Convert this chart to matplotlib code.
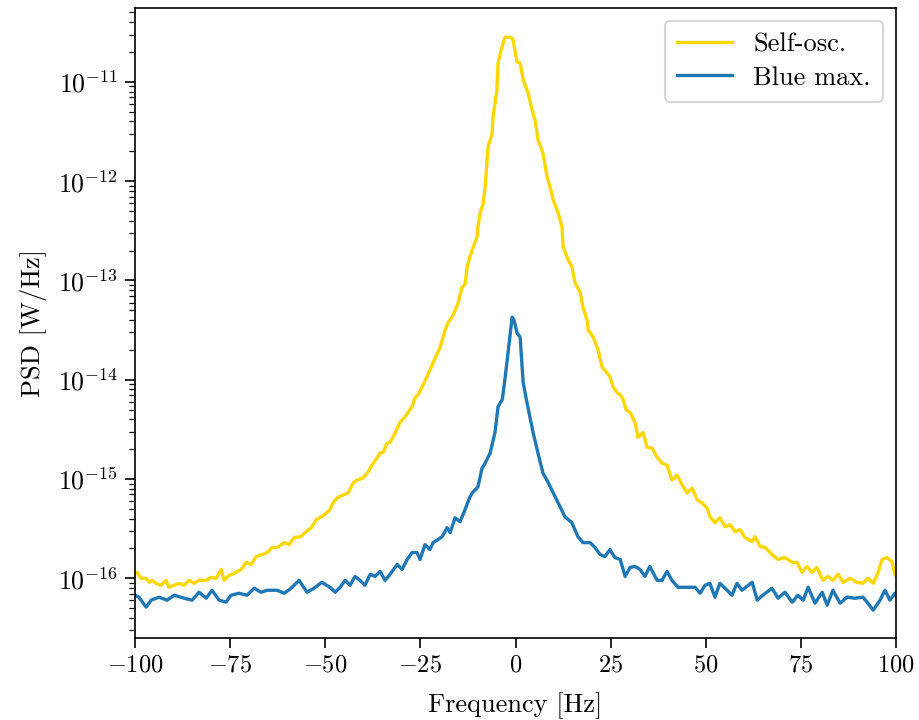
import numpy as np
import matplotlib
matplotlib.use("Agg")
import matplotlib.pyplot as plt
from matplotlib.ticker import NullFormatter

plt.rcParams['font.family'] = 'serif'
plt.rcParams['font.serif'] = ['cmr10', 'DejaVu Serif']
plt.rcParams['mathtext.fontset'] = 'cm'
plt.rcParams['axes.formatter.use_mathtext'] = True
plt.rcParams['axes.unicode_minus'] = False

# Self-oscillation PSD: frequency [Hz] and log10(PSD [W/Hz])
self_freq = [-100, -99.5, -98.4, -97.1, -96.3, -95.5, -94.5, -93.2, -91.9, -91.1, -89.8, -88.4,
             -87.1, -85.8, -84.5, -83.2, -81.3, -80.0, -78.7, -77.4, -76.6, -75.3, -74.0, -72.1,
             -70.8, -69.5, -68.2, -66.6, -65.3, -64.0, -62.7, -60.8, -59.5, -58.2, -56.4, -55.1,
             -53.7, -52.4, -50.6, -48.8, -48.0, -46.9, -45.3, -44.0, -42.7, -41.7, -40.1, -38.8,
             -37.4, -35.6, -34.8, -33.8, -33.0, -31.7, -30.4, -29.0, -28.3, -27.2, -26.4, -25.6,
             -24.3, -23.3, -21.7, -19.8, -18.5, -17.7, -16.7, -15.9, -15.1, -14.1, -13.3, -12.7,
             -12.0, -11.2, -10.1, -9.9, -9.3, -8.5, -8.0, -7.2, -6.2, -5.9, -4.9, -4.6, -3.8,
             -2.8, -1.4, -0.7,
             0.4, 1.2, 2.0, 3.3, 4.3, 5.1, 5.9, 7.2, 8.3, 9.1, 9.9, 11.2, 12.2, 12.5, 13.8, 14.8,
             15.6, 17.0, 17.7, 18.8, 19.1, 20.4, 21.7, 22.7, 24.0, 24.8, 25.6, 26.7, 27.5, 28.3,
             29.0, 30.1, 31.4, 32.2, 33.5, 34.6, 35.9, 37.2, 38.5, 39.8, 41.1, 42.4, 43.8, 45.1,
             46.4, 47.7, 49.0, 50.3, 51.1, 52.4, 53.7, 55.1, 56.4, 57.7, 59.0, 60.3, 62.2, 62.9,
             64.3, 65.6, 67.4, 69.0, 70.8, 72.7, 74.0, 75.3, 76.6, 77.9, 79.2, 80.8, 82.1, 83.4,
             84.8, 86.1, 87.9, 89.7, 91.3, 92.6, 94.0, 95.3, 96.3, 97.6, 98.9, 99.7, 100]
self_log10 = [-15.95, -15.94, -16.00, -16.00, -16.04, -16.02, -16.05, -16.07, -16.02, -16.09, -16.07,
              -16.05, -16.07, -16.02, -16.05, -16.02, -16.02, -15.99, -16.00, -15.91, -16.02, -15.97,
              -15.95, -15.91, -15.84, -15.86, -15.78, -15.76, -15.74, -15.69, -15.69, -15.64, -15.66,
              -15.59, -15.58, -15.53, -15.49, -15.41, -15.37, -15.31, -15.24, -15.19, -15.16, -15.14,
              -15.04, -15.01, -14.99, -14.93, -14.84, -14.74, -14.73, -14.64, -14.63, -14.54, -14.43,
              -14.37, -14.33, -14.27, -14.18, -14.15, -14.05, -13.97, -13.83, -13.67, -13.50, -13.42,
              -13.37, -13.30, -13.23, -13.07, -13.04, -12.86, -12.76, -12.67, -12.56, -12.46, -12.32,
              -12.22, -12.06, -11.65, -11.53, -11.35, -11.08, -10.81, -10.68, -10.55, -10.55, -10.57,
              -10.80, -10.81, -10.98, -11.11, -11.28, -11.38, -11.58, -11.72, -11.96, -12.06, -12.19,
              -12.32, -12.46, -12.66, -12.79, -12.86, -13.02, -13.12, -13.27, -13.40, -13.50, -13.57,
              -13.70, -13.87, -13.93, -13.97, -14.07, -14.13, -14.15, -14.20, -14.30, -14.33, -14.43,
              -14.58, -14.53, -14.68, -14.69, -14.78, -14.84, -14.86, -15.01, -14.96, -15.06, -15.14,
              -15.09, -15.21, -15.24, -15.29, -15.38, -15.44, -15.39, -15.48, -15.46, -15.53, -15.51,
              -15.59, -15.63, -15.58, -15.68, -15.69, -15.76, -15.81, -15.79, -15.84, -15.84, -15.94,
              -15.88, -15.94, -15.89, -16.02, -15.98, -16.02, -15.96, -16.04, -16.00, -16.04, -16.05,
              -16.00, -16.05, -15.94, -15.81, -15.79, -15.83, -15.96, -15.97]

# Blue-detuned maximum PSD: frequency [Hz] and log10(PSD [W/Hz])
blue_freq = [-100, -99, -97.1, -95.8, -93.7, -91.6, -89.7, -87.1, -85.0, -83.2, -81.3, -79.8, -77.9,
             -76.1, -74.8, -72.7, -70.6, -68.7, -66.9, -65.3, -62.7, -60.8, -59.0, -56.9, -54.8,
             -53.0, -50.9, -48.8, -47.4, -46.1, -44.8, -43.5, -42.2, -40.9, -39.6, -38.2, -36.9,
             -35.6, -34.3, -33.0, -31.1, -29.8, -28.5, -27.2, -25.9, -25.1, -23.8, -22.5, -21.7,
             -20.4, -19.3, -18.0, -17.2, -15.9, -14.6, -13.3, -12.0, -11.2, -9.9, -8.8, -8.0, -6.7,
             -5.4, -4.6, -3.5, -2.8, -2.2, -1.4, -0.9, -0.4, 0.4, 1.2, 2.0, 3.0, 4.6, 5.9, 7.2, 8.5,
             9.9, 11.2, 13.0, 14.8, 16.4, 17.7, 19.6, 20.9, 22.2, 23.5, 24.8, 26.1, 27.5, 28.8, 30.1,
             31.4, 32.7, 34.0, 35.3, 37.2, 38.5, 39.8, 41.1, 42.7, 45.1, 47.2, 48.5, 49.8, 51.1,
             52.4, 53.7, 55.6, 56.9, 58.2, 59.5, 62.2, 63.5, 65.0, 67.4, 69.0, 70.8, 72.7, 74.2,
             75.6, 76.9, 78.7, 80.6, 81.9, 83.4, 85.3, 87.1, 89.2, 91.3, 92.6, 94.0, 95.8, 97.1,
             98.4, 99.7, 100]
blue_log10 = [-16.17, -16.19, -16.29, -16.22, -16.19, -16.22, -16.17, -16.20, -16.22, -16.14, -16.20,
              -16.12, -16.22, -16.24, -16.17, -16.15, -16.17, -16.10, -16.14, -16.12, -16.12, -16.15,
              -16.10, -16.02, -16.14, -16.10, -16.04, -16.09, -16.14, -16.09, -16.02, -16.07, -15.98,
              -16.02, -16.07, -15.96, -15.98, -15.93, -16.02, -15.96, -15.86, -15.91, -15.81, -15.74,
              -15.74, -15.81, -15.66, -15.71, -15.64, -15.61, -15.58, -15.49, -15.54, -15.39, -15.43,
              -15.31, -15.18, -15.13, -15.08, -14.89, -14.84, -14.74, -14.53, -14.27, -14.20, -14.00,
              -13.80, -13.53, -13.37, -13.40, -13.53, -13.57, -14.03, -14.23, -14.53, -14.74, -14.94,
              -15.03, -15.14, -15.24, -15.38, -15.44, -15.58, -15.64, -15.64, -15.69, -15.76, -15.78,
              -15.71, -15.79, -15.81, -15.98, -15.89, -15.88, -15.91, -15.98, -15.88, -16.02, -16.02,
              -15.93, -16.02, -16.09, -16.09, -16.09, -16.15, -16.07, -16.05, -16.19, -16.05, -16.12,
              -16.17, -16.05, -16.12, -16.04, -16.22, -16.17, -16.10, -16.20, -16.14, -16.24, -16.17,
              -16.22, -16.09, -16.25, -16.14, -16.27, -16.12, -16.25, -16.19, -16.20, -16.19, -16.25,
              -16.32, -16.22, -16.12, -16.22, -16.15, -16.17]

series_labels = ['Self-osc.', 'Blue max.']
xticks = [-100, -75, -50, -25, 0, 25, 50, 75, 100]

fig = plt.figure(figsize=(9.19, 7.2), dpi=100)
ax = fig.add_axes([0.147, 0.114, 0.828, 0.875])

ax.plot(self_freq, 10.0 ** np.array(self_log10), color='#FFD700', lw=2.4,
        solid_joinstyle='round', label=series_labels[0])
ax.plot(blue_freq, 10.0 ** np.array(blue_log10), color='#1f77b4', lw=2.4,
        solid_joinstyle='round', label=series_labels[1])

ax.set_yscale('log')
ax.set_xlim(-100, 100)
ax.set_ylim(10 ** -16.6, 10 ** -10.255)
ax.set_xticks(xticks)
ax.yaxis.set_minor_formatter(NullFormatter())
ax.tick_params(axis='both', which='major', length=7, width=1.2, direction='out', pad=5)
ax.tick_params(axis='x', which='major', labelsize=17.5)
ax.tick_params(axis='y', which='major', labelsize=18.5)
ax.tick_params(axis='y', which='minor', length=4, width=0.9)
for s in ax.spines.values():
    s.set_linewidth(1.2)

ax.set_xlabel('Frequency [Hz]', fontsize=19, labelpad=11)
ax.set_ylabel('PSD [W/Hz]', fontsize=19, labelpad=8)

leg = ax.legend(loc='upper right', fontsize=19, frameon=True, fancybox=True,
                handlelength=2.1, borderpad=0.45, labelspacing=0.35)
leg.get_frame().set_edgecolor('#cccccc')
leg.get_frame().set_linewidth(1.5)

fig.savefig('out.png', dpi=100)
